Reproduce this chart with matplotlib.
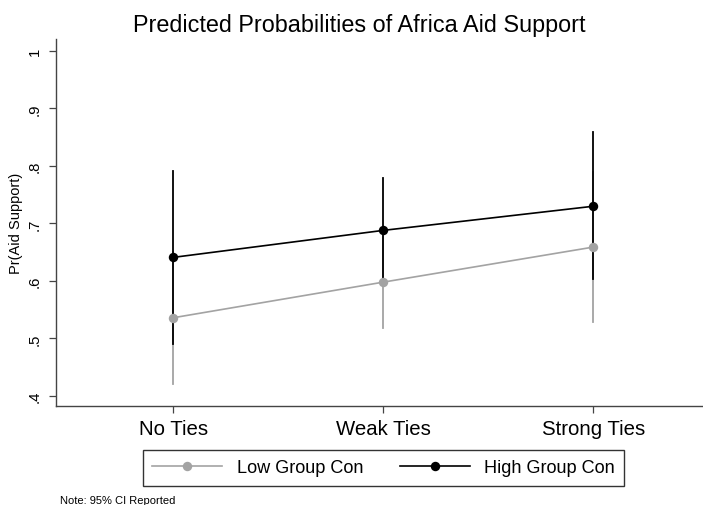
import matplotlib
matplotlib.use("Agg")
import matplotlib.pyplot as plt
from matplotlib.lines import Line2D

plt.rcParams['font.family'] = ['Liberation Sans', 'DejaVu Sans']

categories = ["No Ties", "Weak Ties", "Strong Ties"]

low_mean = [0.536, 0.598, 0.659]
low_lower = [0.421, 0.519, 0.528]
low_upper = [0.651, 0.677, 0.790]

high_mean = [0.641, 0.688, 0.730]
high_lower = [0.490, 0.592, 0.603]
high_upper = [0.791, 0.779, 0.859]

y_ticks = [0.4, 0.5, 0.6, 0.7, 0.8, 0.9, 1.0]
y_tick_labels = [".4", ".5", ".6", ".7", ".8", ".9", "1"]

GRAY = "#a3a3a3"
BLACK = "#000000"
AXIS = "#444444"

fig = plt.figure(figsize=(7.03, 5.06), dpi=100)
ax = fig.add_axes([0.0797, 0.1957, 0.92, 0.7253])

x = [1, 2, 3]

# confidence intervals first, then the connecting lines, then the point markers
for xi, lo, hi in zip(x, low_lower, low_upper):
    ax.plot([xi, xi], [lo, hi], color=GRAY, lw=1.3, zorder=1)
ax.plot(x, low_mean, color=GRAY, lw=1.2, zorder=2)

for xi, lo, hi in zip(x, high_lower, high_upper):
    ax.plot([xi, xi], [lo, hi], color=BLACK, lw=1.3, zorder=3)
ax.plot(x, high_mean, color=BLACK, lw=1.2, zorder=4)

ax.plot(x, low_mean, 'o', color=GRAY, ms=6.8, mec='none', zorder=5)
ax.plot(x, high_mean, 'o', color=BLACK, ms=6.8, mec='none', zorder=6)

ax.set_xlim(0.443, 3.52)
ax.set_ylim(0.3826, 1.0209)
ax.set_xticks(x)
ax.set_xticklabels(categories, fontsize=14.7)
ax.set_yticks(y_ticks)
ax.set_yticklabels(y_tick_labels, fontsize=10.7, rotation=90, va='center')
ax.tick_params(axis='both', length=5, width=0.9, color=AXIS)
ax.tick_params(axis='x', pad=4.5)
ax.tick_params(axis='y', pad=5.5)

for side in ['top', 'right']:
    ax.spines[side].set_visible(False)
for side in ['left', 'bottom']:
    ax.spines[side].set_color(AXIS)
    ax.spines[side].set_linewidth(1.0)

ax.set_ylabel("Pr(Aid Support)", fontsize=10.5, labelpad=3)

fig.text(359.5 / 703, 1 - 32 / 506, "Predicted Probabilities of Africa Aid Support",
         ha='center', va='baseline', fontsize=16.8)

handles = [
    Line2D([], [], color=GRAY, lw=1.2, marker='o', ms=6.8, mec='none'),
    Line2D([], [], color=BLACK, lw=1.2, marker='o', ms=6.8, mec='none'),
]
leg = fig.legend(handles, ["Low Group Con", "High Group Con"], ncol=2,
                 loc='center', bbox_to_anchor=(383.5 / 703, 1 - 469 / 506),
                 fontsize=13.1, frameon=True, fancybox=False,
                 edgecolor='black', handlelength=3.85, columnspacing=2.0,
                 borderpad=0.5, handletextpad=0.8, borderaxespad=0)
leg.get_frame().set_linewidth(1.0)

fig.text(60 / 703, 1 - 504 / 506, "Note: 95% CI Reported",
         ha='left', va='baseline', fontsize=8)

fig.savefig("out.png", dpi=100, facecolor='white')
